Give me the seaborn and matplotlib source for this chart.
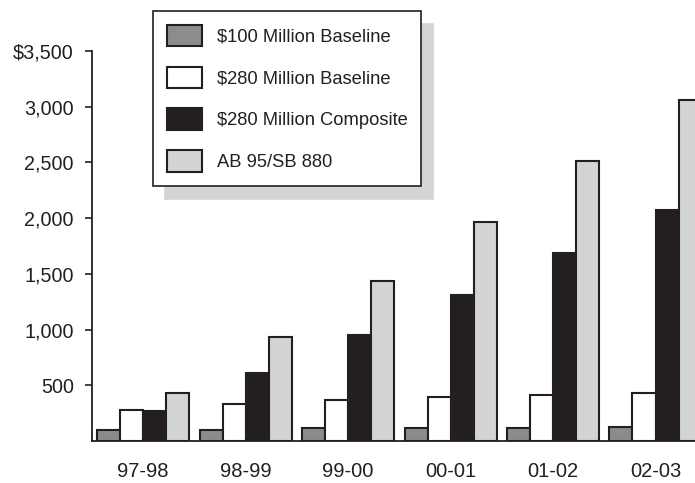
import matplotlib
matplotlib.use("Agg")
import matplotlib.pyplot as plt
from matplotlib.patches import Patch
from matplotlib.ticker import FixedLocator, FuncFormatter
import pandas as pd
import seaborn as sns

# Fiscal years
years = ["97-98", "98-99", "99-00", "00-01", "01-02", "02-03"]

# Series values (millions of dollars)
baseline_100 = [100, 100, 115, 115, 115, 125]
baseline_280 = [280, 330, 370, 395, 410, 430]
composite_280 = [270, 610, 950, 1310, 1690, 2075]
ab95_sb880 = [430, 935, 1437, 1965, 2515, 3060]

series_names = [
    "$100 Million Baseline",
    "$280 Million Baseline",
    "$280 Million Composite",
    "AB 95/SB 880",
]
series_colors = ["#8a8c8e", "#ffffff", "#231f20", "#d1d3d4"]

y_ticks = [500, 1000, 1500, 2000, 2500, 3000, 3500]

ink = "#231f20"

df = pd.DataFrame({
    "year": years * 4,
    "value": baseline_100 + baseline_280 + composite_280 + ab95_sb880,
    "series": [s for s in series_names for _ in years],
})

sns.set_theme(style="white")
plt.rcParams["font.family"] = ["Liberation Sans", "DejaVu Sans"]
plt.rcParams["text.color"] = ink

fig = plt.figure(figsize=(6.95, 4.83), dpi=100)
ax = fig.add_axes([92 / 695, 42 / 483, (695 - 92) / 695, 390 / 483])

sns.barplot(
    data=df, x="year", y="value", hue="series",
    hue_order=series_names, order=years,
    palette=dict(zip(series_names, series_colors)),
    width=0.9, saturation=1, edgecolor=ink, linewidth=1.5,
    legend=False, ax=ax, errorbar=None,
)

ax.set_xlim(-0.5, 5.385)
ax.set_ylim(0, 3500)
ax.set_xlabel("")
ax.set_ylabel("")

ax.yaxis.set_major_locator(FixedLocator(y_ticks))
ax.yaxis.set_major_formatter(
    FuncFormatter(lambda v, p: f"${v:,.0f}" if v == 3500 else f"{v:,.0f}")
)

for side in ("top", "right"):
    ax.spines[side].set_visible(False)
for side in ("left", "bottom"):
    ax.spines[side].set_color(ink)
    ax.spines[side].set_linewidth(1.3)

ax.tick_params(axis="y", which="major", left=True, length=5, width=1.2,
               color=ink, labelsize=14.2, labelcolor=ink, pad=8)
ax.tick_params(axis="x", which="major", bottom=False, length=0,
               labelsize=14.5, labelcolor=ink, pad=15)

handles = [Patch(facecolor=c, edgecolor=ink, linewidth=1.5) for c in series_colors]
leg = fig.legend(
    handles, series_names,
    loc="upper left", bbox_to_anchor=(153 / 695, 1 - 11 / 483),
    bbox_transform=fig.transFigure, borderaxespad=0,
    fontsize=13.2, frameon=True, fancybox=False,
    handlelength=1.94, handleheight=1.44, labelspacing=1.1,
    handletextpad=0.78, borderpad=0.75,
    shadow={"ox": 8.6, "oy": -9.4, "color": "#d4d4d4", "alpha": 1},
)
frame = leg.get_frame()
frame.set_edgecolor(ink)
frame.set_linewidth(1.2)
frame.set_facecolor("white")
frame.set_alpha(1)

fig.savefig("out.png", dpi=100)
